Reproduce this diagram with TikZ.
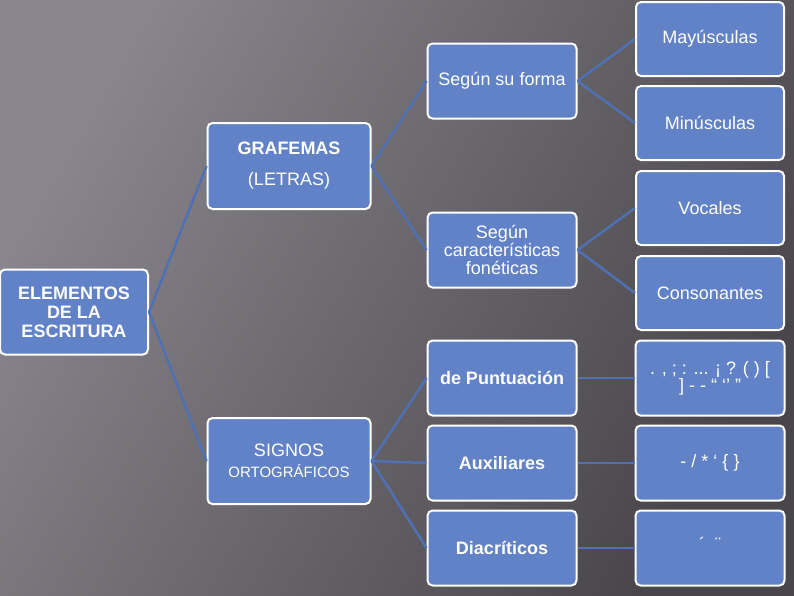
\documentclass[tikz,border=0pt]{standalone}
\usepackage{fontspec}
\setmainfont{Liberation Sans}
\definecolor{boxblue}{RGB}{98,130,200}
\definecolor{lineblue}{RGB}{80,112,180}
\definecolor{bgleft}{RGB}{136,134,140}
\definecolor{bgright}{RGB}{72,70,74}

\begin{document}
\begin{tikzpicture}[x=1pt, y=-1pt, font=\fontsize{18}{21}\selectfont,
    box/.style={draw=white, line width=2pt, fill=boxblue, rounded corners=5pt, text=white, align=center, inner sep=1pt},
    lvlone/.style={box, minimum width=148pt, minimum height=85pt},
    lvltwo/.style={box, minimum width=163pt, minimum height=86pt},
    lvlthree/.style={box, minimum width=149pt, minimum height=75pt},
    lvlfour/.style={box, minimum width=148pt, minimum height=74pt},
    link/.style={lineblue, line width=2.5pt}]
    % background
    \shade[left color=bgleft, right color=bgright, shading angle=60] (0,0) rectangle (794,595);
    \useasboundingbox (0,0) rectangle (794,595);

    \node[lvlone]   (elem)  at (74,312)   {\textbf{ELEMENTOS}\\[-2pt]\textbf{DE LA}\\[-2pt]\textbf{ESCRITURA}};
    \node[lvltwo]   (graf)  at (289,166)  {\textbf{GRAFEMAS}\\[10pt](LETRAS)};
    \node[lvltwo]   (sign)  at (289,461)  {SIGNOS\\{\fontsize{15}{17}\selectfont ORTOGRÁFICOS}};

    \node[lvlthree] (forma) at (502,81)   {Según su forma};
    \node[lvlthree] (fone)  at (502,250)  {Según\\[-3pt]características\\[-3pt]fonéticas};
    \node[lvlthree] (punt)  at (502,378)  {\textbf{de Puntuación}};
    \node[lvlthree] (aux)   at (502,463)  {\textbf{Auxiliares}};
    \node[lvlthree] (diac)  at (502,548)  {\textbf{Diacríticos}};

    \node[lvlfour]  (mayus) at (710,39)   {Mayúsculas};
    \node[lvlfour]  (minus) at (710,123)  {Minúsculas};
    \node[lvlfour]  (voc)   at (710,208)  {Vocales};
    \node[lvlfour]  (cons)  at (710,293)  {Consonantes};
    \node[lvlthree] (pset)  at (710,378)  {. , ; : ... ¡ ? ( ) [\\[-4pt]] - - “ ‘’ ”};
    \node[lvlthree] (aset)  at (710,463)  {- / * ‘ \{ \}};
    \node[lvlthree] (dset)  at (710,548)  {\raisebox{8pt}{´ \ ¨}};

    \draw[link] (elem.east) -- (graf.west);
    \draw[link] (elem.east) -- (sign.west);
    \draw[link] (graf.east) -- (forma.west);
    \draw[link] (graf.east) -- (fone.west);
    \draw[link] (forma.east) -- (mayus.west);
    \draw[link] (forma.east) -- (minus.west);
    \draw[link] (fone.east) -- (voc.west);
    \draw[link] (fone.east) -- (cons.west);
    \draw[link] (sign.east) -- (punt.west);
    \draw[link] (sign.east) -- (aux.west);
    \draw[link] (sign.east) -- (diac.west);
    \draw[link] (punt.east) -- (pset.west);
    \draw[link] (aux.east) -- (aset.west);
    \draw[link] (diac.east) -- (dset.west);
\end{tikzpicture}
\end{document}
